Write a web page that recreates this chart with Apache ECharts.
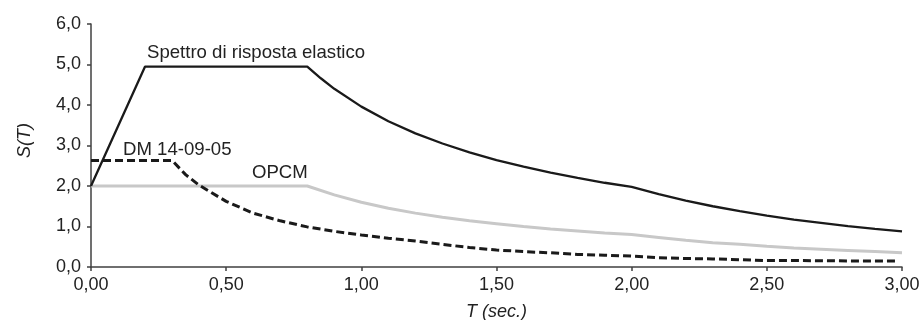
<!DOCTYPE html>
<html>
<head>
<meta charset="utf-8">
<script src="https://cdn.jsdelivr.net/npm/echarts@6/dist/echarts.min.js"></script>
<style>html,body{margin:0;padding:0;background:#fff}#c{width:920px;height:320px}</style>
</head>
<body>
<div id="c"></div>
<script>
var elasticT = [0, 0.2, 0.8, 0.85, 0.9, 1.0, 1.1, 1.2, 1.3, 1.4, 1.5, 1.6, 1.7, 1.8, 1.9, 2.0, 2.1, 2.2, 2.3, 2.4, 2.5, 2.6, 2.7, 2.8, 2.9, 3.0];
var elasticS = [2.0, 4.95, 4.95, 4.66, 4.40, 3.96, 3.60, 3.30, 3.05, 2.83, 2.64, 2.48, 2.33, 2.20, 2.08, 1.98, 1.80, 1.64, 1.50, 1.38, 1.27, 1.17, 1.09, 1.01, 0.94, 0.88];

var opcmT = [0, 0.8, 0.9, 1.0, 1.1, 1.2, 1.3, 1.4, 1.5, 1.6, 1.7, 1.8, 1.9, 2.0, 2.1, 2.2, 2.3, 2.4, 2.5, 2.6, 2.7, 2.8, 2.9, 3.0];
var opcmS = [2.0, 2.0, 1.78, 1.60, 1.45, 1.33, 1.23, 1.14, 1.07, 1.00, 0.94, 0.89, 0.84, 0.80, 0.73, 0.66, 0.60, 0.56, 0.51, 0.47, 0.44, 0.41, 0.38, 0.35];

var dmT = [0, 0.3, 0.35, 0.4, 0.5, 0.6, 0.7, 0.8, 0.9, 1.0, 1.1, 1.2, 1.3, 1.4, 1.5, 1.6, 1.7, 1.8, 1.9, 2.0, 2.1, 2.2, 2.3, 2.4, 2.5, 2.6, 2.8, 2.98];
var dmS = [2.63, 2.63, 2.28, 2.02, 1.62, 1.33, 1.14, 0.99, 0.88, 0.79, 0.71, 0.64, 0.56, 0.48, 0.42, 0.38, 0.35, 0.31, 0.29, 0.27, 0.23, 0.21, 0.20, 0.18, 0.16, 0.16, 0.15, 0.15];

var xTicks = [0, 0.5, 1.0, 1.5, 2.0, 2.5, 3.0];
var yTicks = [0, 1, 2, 3, 4, 5, 6];

var seriesNames = ['Spettro di risposta elastico', 'DM 14-09-05', 'OPCM'];

function pairs(t, s) { return t.map(function (v, i) { return [v, s[i]]; }); }

var chart = echarts.init(document.getElementById('c'), null, { renderer: 'canvas' });
var font = 'Liberation Sans, Arial, sans-serif';
chart.setOption({
  animation: false,
  backgroundColor: '#fff',
  grid: { left: 91, right: 18, top: 24, bottom: 53, containLabel: false, outerBoundsMode: 'none' },
  xAxis: {
    type: 'value', min: xTicks[0], max: xTicks[xTicks.length - 1], interval: 0.5,
    name: 'T (sec.)', nameLocation: 'middle', nameGap: 36,
    nameTextStyle: { fontFamily: font, fontSize: 18, fontStyle: 'italic', color: '#222' },
    axisLine: { lineStyle: { color: '#404040', width: 1.5 } },
    axisTick: { show: true, length: 4, lineStyle: { color: '#404040', width: 1.5 } },
    axisLabel: { fontFamily: font, fontSize: 18, color: '#222', margin: 9,
      formatter: function (v) { return v.toFixed(2).replace('.', ','); } },
    splitLine: { show: false }
  },
  yAxis: {
    type: 'value', min: yTicks[0], max: yTicks[yTicks.length - 1], interval: 1,
    name: 'S(T)', nameLocation: 'middle', nameGap: 57, nameRotate: 90,
    nameTextStyle: { fontFamily: font, fontSize: 18, fontStyle: 'italic', color: '#222', padding: [0, 0, 0, 10] },
    axisLine: { show: true, lineStyle: { color: '#404040', width: 1.5 } },
    axisTick: { show: true, length: 4, lineStyle: { color: '#404040', width: 1.5 } },
    axisLabel: { fontFamily: font, fontSize: 18, color: '#222', margin: 10,
      formatter: function (v) { return v.toFixed(1).replace('.', ','); } },
    splitLine: { show: false }
  },
  series: [
    { name: seriesNames[2], type: 'line', data: pairs(opcmT, opcmS), showSymbol: false, z: 1,
      lineStyle: { color: '#c8c8c8', width: 3 } },
    { name: seriesNames[1], type: 'line', data: pairs(dmT, dmS), showSymbol: false, z: 2,
      lineStyle: { color: '#1a1a1a', width: 3, type: [8, 4] } },
    { name: seriesNames[0], type: 'line', data: pairs(elasticT, elasticS), showSymbol: false, z: 3,
      lineStyle: { color: '#1a1a1a', width: 2.3 } }
  ],
  graphic: [
    { type: 'text', left: 147, top: 43, style: { text: seriesNames[0], font: '18.6px ' + font, fill: '#222' } },
    { type: 'text', left: 123, top: 140, style: { text: seriesNames[1], font: '18.6px ' + font, fill: '#222' } },
    { type: 'text', left: 252, top: 163, style: { text: seriesNames[2], font: '18.6px ' + font, fill: '#222' } }
  ]
});
</script>
</body>
</html>
